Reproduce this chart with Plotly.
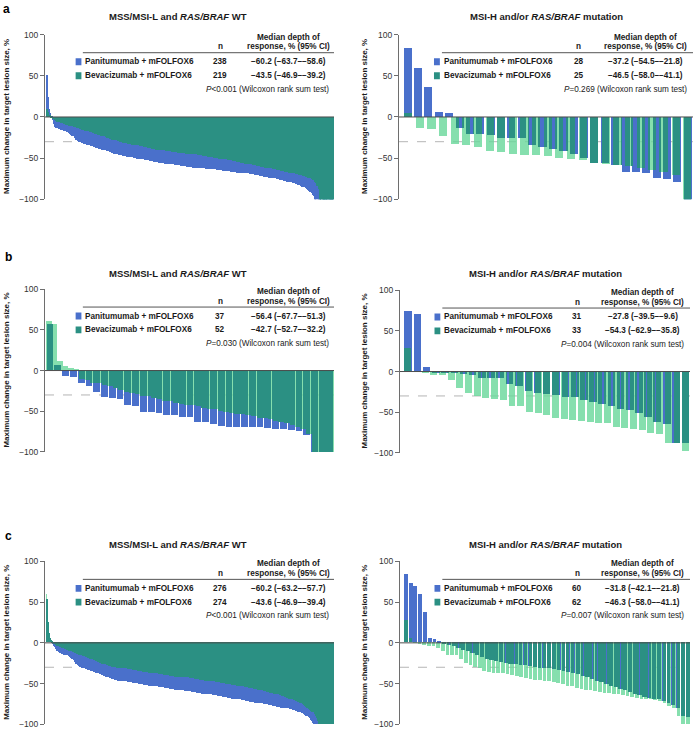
import plotly.graph_objects as go

# ---------------- data ----------------
a_wt_pan = [52, 25, 10, 5, 2, -3, -8, -12, -13, -13,
            -14, -14, -15, -15, -16, -17, -17, -18, -19, -20,
            -21, -22, -23, -25, -27, -28, -29, -30, -30, -31,
            -31, -32, -32, -33, -33, -34, -34, -35, -35, -36,
            -36, -37, -37, -38, -38, -38, -39, -39, -40, -40,
            -41, -41, -42, -42, -43, -43, -44, -44, -45, -45,
            -46, -46, -46, -47, -47, -47, -48, -48, -48, -48,
            -48, -48, -49, -49, -49, -50, -50, -50, -51, -51,
            -51, -52, -52, -52, -52, -53, -53, -53, -53, -54,
            -54, -54, -54, -55, -55, -55, -55, -55, -56, -56,
            -56, -56, -57, -57, -57, -57, -58, -58, -58, -58,
            -58, -59, -59, -59, -59, -59, -60, -60, -60, -60,
            -60, -61, -61, -61, -61, -61, -62, -62, -62, -62,
            -62, -62, -63, -63, -63, -63, -63, -63, -63, -63,
            -63, -64, -64, -64, -64, -64, -65, -65, -65, -65,
            -65, -65, -66, -66, -66, -66, -66, -67, -67, -67,
            -67, -67, -67, -67, -68, -68, -68, -68, -69, -69,
            -69, -69, -70, -70, -70, -70, -71, -71, -71, -71,
            -72, -72, -72, -72, -73, -73, -73, -74, -74, -74,
            -75, -75, -75, -76, -76, -76, -77, -77, -77, -78,
            -78, -78, -79, -79, -80, -80, -81, -81, -82, -82,
            -83, -84, -84, -85, -86, -87, -88, -89, -90, -92,
            -94, -96, -100, -100, -100, -100, -100, -100, -100, -100,
            -100, -100, -100, -100, -100, -100, -100, -100]
a_wt_bev = [10, 6, 3, 1, -1, -2, -3, -4, -5, -6,
            -6, -7, -7, -8, -8, -9, -9, -10, -10, -11,
            -11, -12, -12, -13, -13, -14, -14, -15, -15, -16,
            -16, -17, -17, -18, -18, -19, -19, -20, -20, -21,
            -21, -22, -22, -23, -23, -24, -25, -25, -26, -26,
            -27, -27, -28, -28, -29, -29, -30, -30, -31, -31,
            -31, -31, -32, -32, -32, -33, -33, -33, -34, -34,
            -34, -35, -35, -35, -36, -36, -36, -37, -37, -37,
            -38, -38, -38, -39, -39, -39, -39, -40, -40, -40,
            -40, -41, -41, -41, -41, -42, -42, -42, -42, -42,
            -43, -43, -43, -43, -43, -43, -44, -44, -44, -44,
            -44, -45, -45, -45, -45, -46, -46, -46, -46, -47,
            -47, -47, -47, -48, -48, -48, -48, -49, -49, -49,
            -49, -50, -50, -50, -50, -51, -51, -51, -52, -52,
            -52, -52, -53, -53, -53, -54, -54, -54, -55, -55,
            -55, -56, -56, -56, -57, -57, -57, -58, -58, -58,
            -59, -59, -59, -60, -60, -60, -61, -61, -61, -62,
            -62, -62, -63, -63, -63, -64, -64, -64, -65, -65,
            -65, -66, -66, -66, -67, -67, -67, -68, -68, -68,
            -69, -69, -70, -70, -70, -71, -71, -72, -72, -73,
            -73, -74, -75, -76, -78, -80, -83, -87, -100, -100,
            -100, -100, -100, -100, -100, -100, -100, -100, -100]

a_mut_pan = [84, 60, 37, 6, 5, -13, -20, -20, -21, -25, -25, -25, -33, -36,
             -38, -41, -45, -49, -55, -55, -58, -66, -66, -67, -73, -75, -78, -100]
a_mut_bev = [5, -13, -14, -23, -32, -34, -36, -41, -42, -45, -46, -46, -47,
             -49, -50, -52, -55, -56, -58, -59, -62, -64, -66, -70, -100]

b_wt_pan = [57, 7, -7, -8, -16, -19, -27, -33, -34, -35, -43, -44, -51, -51,
            -52, -55, -55, -57, -57, -63, -64, -66, -68, -69, -69, -69, -69,
            -70, -71, -72, -72, -73, -74, -79, -100, -100, -100]
b_wt_bev = [61, 57, 11, 6, 3, 2, -10, -12, -15, -16, -18, -19, -22, -24, -26,
            -28, -29, -31, -32, -34, -35, -37, -38, -40, -41, -42, -43, -44,
            -46, -47, -48, -50, -51, -52, -53, -54, -55, -56, -58, -59, -60,
            -62, -63, -65, -67, -70, -72, -78, -100, -100, -100, -100]

b_mut_pan = [74, 71, 5, -1, -1, -2, -3, -5, -8, -8, -8, -16, -18, -24, -26,
             -28, -29, -31, -31, -35, -37, -40, -43, -46, -47, -51, -56, -62,
             -65, -88, -88]
b_mut_bev = [29, -1, -2, -4, -4, -10, -20, -27, -30, -33, -34, -35, -42, -43,
             -50, -51, -54, -57, -59, -60, -61, -62, -63, -63, -68, -70, -71,
             -72, -76, -77, -88, -88, -98]

c_wt_pan = [53, 25, 12, 6, 3, 1, -2, -4, -6, -8,
            -10, -11, -12, -13, -13, -14, -14, -15, -15, -16,
            -16, -17, -18, -19, -20, -21, -22, -24, -26, -27,
            -28, -29, -30, -30, -31, -31, -32, -32, -33, -33,
            -34, -34, -35, -35, -35, -36, -36, -37, -37, -38,
            -38, -39, -39, -40, -40, -41, -41, -42, -42, -43,
            -43, -44, -44, -45, -45, -46, -46, -46, -47, -47,
            -47, -47, -47, -48, -48, -48, -48, -48, -49, -49,
            -49, -49, -49, -50, -50, -50, -50, -50, -51, -51,
            -51, -51, -51, -52, -52, -52, -52, -52, -53, -53,
            -53, -53, -53, -54, -54, -54, -54, -54, -55, -55,
            -55, -55, -55, -56, -56, -56, -56, -56, -57, -57,
            -57, -57, -57, -58, -58, -58, -58, -58, -59, -59,
            -59, -59, -59, -60, -60, -60, -60, -60, -60, -61,
            -61, -61, -61, -61, -62, -62, -62, -62, -62, -63,
            -63, -63, -63, -63, -64, -64, -64, -64, -64, -65,
            -65, -65, -65, -65, -66, -66, -66, -66, -66, -67,
            -67, -67, -67, -67, -68, -68, -68, -68, -69, -69,
            -69, -69, -69, -70, -70, -70, -70, -71, -71, -71,
            -71, -72, -72, -72, -72, -73, -73, -73, -73, -73,
            -74, -74, -74, -74, -75, -75, -75, -75, -76, -76,
            -76, -76, -76, -77, -77, -77, -77, -78, -78, -78,
            -78, -79, -79, -79, -79, -80, -80, -80, -80, -81,
            -81, -81, -81, -82, -82, -82, -83, -83, -83, -84,
            -84, -85, -85, -86, -86, -87, -87, -88, -89, -90,
            -91, -92, -93, -95, -97, -99, -100, -100, -100, -100,
            -100, -100, -100, -100, -100, -100, -100, -100, -100, -100,
            -100, -100, -100, -100, -100, -100]
c_wt_bev = [60, 50, 25, 10, 5, 3, 1, -1, -2, -3,
            -4, -5, -5, -6, -6, -7, -7, -8, -8, -9,
            -9, -10, -10, -11, -11, -12, -12, -13, -13, -14,
            -14, -15, -15, -16, -16, -17, -17, -18, -18, -19,
            -19, -20, -20, -21, -21, -22, -22, -23, -23, -24,
            -24, -25, -25, -26, -26, -27, -27, -28, -28, -29,
            -29, -29, -30, -30, -30, -30, -30, -31, -31, -31,
            -31, -31, -32, -32, -32, -32, -32, -33, -33, -33,
            -33, -33, -34, -34, -34, -34, -34, -35, -35, -35,
            -35, -35, -36, -36, -36, -36, -36, -37, -37, -37,
            -37, -37, -38, -38, -38, -38, -38, -39, -39, -39,
            -39, -39, -40, -40, -40, -40, -40, -41, -41, -41,
            -41, -41, -42, -42, -42, -42, -42, -43, -43, -43,
            -43, -43, -43, -43, -43, -43, -44, -44, -44, -44,
            -44, -45, -45, -45, -45, -45, -46, -46, -46, -46,
            -46, -47, -47, -47, -47, -47, -48, -48, -48, -48,
            -48, -49, -49, -49, -49, -49, -50, -50, -50, -50,
            -50, -51, -51, -51, -51, -51, -52, -52, -52, -52,
            -52, -53, -53, -53, -53, -54, -54, -54, -54, -55,
            -55, -55, -55, -56, -56, -56, -56, -57, -57, -57,
            -57, -58, -58, -58, -59, -59, -59, -60, -60, -60,
            -61, -61, -61, -62, -62, -62, -63, -63, -63, -64,
            -64, -64, -65, -65, -66, -66, -66, -67, -67, -68,
            -68, -69, -69, -70, -70, -71, -71, -72, -72, -73,
            -73, -74, -75, -75, -76, -77, -78, -79, -80, -81,
            -82, -83, -84, -85, -86, -88, -90, -93, -96, -100,
            -100, -100, -100, -100, -100, -100, -100, -100, -100, -100,
            -100, -100, -100, -100]

c_mut_pan = [84, 73, 69, 59, 37, 6, 4, 2, -1, -3,
             -5, -7, -9, -11, -13, -16, -18, -20, -22, -23,
             -24, -25, -26, -27, -28, -28, -29, -30, -31, -31,
             -32, -33, -34, -35, -36, -38, -39, -41, -43, -45,
             -47, -49, -51, -53, -55, -57, -59, -61, -63, -65,
             -67, -68, -69, -70, -72, -74, -77, -80, -90, -92]
c_mut_bev = [27, 5, -1, -2, -3, -4, -5, -7, -10, -15,
             -15, -16, -20, -25, -28, -30, -32, -35, -36, -37,
             -38, -38, -39, -40, -41, -42, -44, -45, -46, -46,
             -47, -48, -49, -50, -51, -53, -54, -56, -57, -58,
             -59, -60, -61, -62, -62, -63, -64, -65, -66, -67,
             -68, -69, -70, -70, -71, -72, -74, -78, -80, -91,
             -100, -100]

series_names = ["Panitumumab + mFOLFOX6", "Bevacizumab + mFOLFOX6"]
title_wt = "<b>MSS/MSI-L and <i>RAS/BRAF</i> WT</b>"
title_mut = "<b>MSI-H and/or <i>RAS/BRAF</i> mutation</b>"
n_labels = [["238", "219"], ["28", "25"], ["37", "52"], ["31", "33"], ["276", "274"], ["60", "62"]]
median_labels = [
    ["−60.2 (−63.7–−58.6)", "−43.5 (−46.9–−39.2)"],
    ["−37.2 (−54.5–−21.8)", "−46.5 (−58.0–−41.1)"],
    ["−56.4 (−67.7–−51.3)", "−42.7 (−52.7–−32.2)"],
    ["−27.8 (−39.5–−9.6)", "−54.3 (−62.9–−35.8)"],
    ["−60.2 (−63.2–−57.7)", "−43.6 (−46.9–−39.4)"],
    ["−31.8 (−42.1–−21.8)", "−46.3 (−58.0–−41.1)"],
]
p_labels = ["&lt;0.001", "=0.269", "=0.030", "=0.004", "&lt;0.001", "=0.007"]
y_ticks = [-100, -50, 0, 50, 100]
y_tick_text = ["−100", "−50", "0", "50", "100"]

# ---------------- styling ----------------
W, H = 700, 747
BLUE = "#4A70CB"
TEAL = "#2B9083"
MINT = "rgba(104,215,154,0.8)"
FONT = "Arial, Liberation Sans, sans-serif"
TXT = "#1a1a1a"

panels = [
    dict(pan=a_wt_pan, bev=a_wt_bev, box=(45, 334, 30, 197), side="L", pf=0.85, bf=1.0, title=title_wt, ty=12),
    dict(pan=a_mut_pan, bev=a_mut_bev, box=(399, 693, 30, 197), side="R", pf=0.78, bf=0.7, title=title_mut, ty=12),
    dict(pan=b_wt_pan, bev=b_wt_bev, box=(45, 334, 288, 453), side="L", pf=0.87, bf=1.0, title=title_wt, ty=272),
    dict(pan=b_mut_pan, bev=b_mut_bev, box=(400, 690, 289, 454), side="R", pf=0.8, bf=0.8, title=title_mut, ty=272),
    dict(pan=c_wt_pan, bev=c_wt_bev, box=(45, 334, 564, 729), side="L", pf=0.85, bf=1.0, title=title_wt, ty=547),
    dict(pan=c_mut_pan, bev=c_mut_bev, box=(400, 690, 564, 729), side="R", pf=0.8, bf=0.8, title=title_mut, ty=547),
]


def bar_geom(vals, frac):
    n = len(vals)
    xs = [(i + 0.5) / n for i in range(n)]
    ws = [frac / n] * n
    return xs, ws


def overlap_geom(pv, bv, pf, bf):
    npn, nb = len(pv), len(bv)
    xs, ws, ys = [], [], []
    for i, p in enumerate(pv):
        pl, pr = (i + 0.5 - pf / 2) / npn, (i + 0.5 + pf / 2) / npn
        for j, b in enumerate(bv):
            bl, br = (j + 0.5 - bf / 2) / nb, (j + 0.5 + bf / 2) / nb
            lo, hi = max(pl, bl), min(pr, br)
            if hi > lo and p * b > 0:
                xs.append((lo + hi) / 2)
                ws.append(hi - lo)
                m = min(abs(p), abs(b))
                ys.append(m if p > 0 else -m)
    return xs, ws, ys


fig = go.Figure()
annotations = []
shapes = []
layout_axes = {}

for k, P in enumerate(panels):
    sfx = "" if k == 0 else str(k + 1)
    xa, ya = "x" + sfx, "y" + sfx
    x0, x1, yt, yb = P["box"]

    bx, bw = bar_geom(P["bev"], P["bf"])
    fig.add_trace(go.Bar(x=bx, y=P["bev"], width=bw, marker=dict(color=MINT, line=dict(width=0)),
                         xaxis=xa, yaxis=ya, showlegend=False, hoverinfo="skip"))
    px_, pw = bar_geom(P["pan"], P["pf"])
    fig.add_trace(go.Bar(x=px_, y=P["pan"], width=pw, marker=dict(color=BLUE, line=dict(width=0)),
                         xaxis=xa, yaxis=ya, showlegend=False, hoverinfo="skip"))
    ox, ow, oy = overlap_geom(P["pan"], P["bev"], P["pf"], P["bf"])
    fig.add_trace(go.Bar(x=ox, y=oy, width=ow, marker=dict(color=TEAL, line=dict(width=0)),
                         xaxis=xa, yaxis=ya, showlegend=False, hoverinfo="skip"))

    xstart = -0.004 if P["side"] == "L" else -0.012
    layout_axes["xaxis" + sfx] = dict(domain=[x0 / W, x1 / W], range=[xstart, 1.0], anchor=ya,
                                      showgrid=False, zeroline=False, showticklabels=False,
                                      ticks="", showline=False, fixedrange=True)
    layout_axes["yaxis" + sfx] = dict(domain=[1 - yb / H, 1 - yt / H], range=[-100, 100], anchor=xa,
                                      showgrid=False, zeroline=False, showline=True, linecolor="#6e6e6e",
                                      linewidth=1, ticks="outside", ticklen=4, tickcolor="#6e6e6e",
                                      tickvals=y_ticks, ticktext=y_tick_text,
                                      tickfont=dict(family=FONT, size=8.5, color="#333"), fixedrange=True)

    xdom = xa + " domain"
    shapes.append(dict(type="line", xref=xdom, yref=ya, x0=0, x1=1, y0=-30, y1=-30, layer="below",
                       line=dict(color="#b5b5b5", width=1, dash="dash")))
    shapes.append(dict(type="line", xref=xdom, yref=ya, x0=0, x1=1, y0=0, y1=0, layer="above",
                       line=dict(color="#4d4d4d", width=1)))

    tcx = 0.46 if P["side"] == "L" else 0.5
    annotations.append(dict(text=P["title"], xref=xdom, x=tcx, yref="paper", y=1 - P["ty"] / H,
                            showarrow=False, xanchor="center", yanchor="middle",
                            font=dict(family=FONT, size=9.5, color=TXT)))
    ytx = 7 if P["side"] == "L" else 365
    annotations.append(dict(text="<b>Maximum change in target lesion size, %</b>", xref="paper", x=ytx / W,
                            yref=ya, y=0, textangle=-90, showarrow=False, xanchor="center",
                            yanchor="middle", font=dict(family=FONT, size=8, color=TXT)))

    if P["side"] == "L":
        x_rule, x_sq, x_n, x_med, x_p = 0.131, 0.116, 0.606, 0.844, 0.99
    else:
        x_rule, x_sq, x_n, x_med, x_p = 0.146, 0.129, 0.612, 0.837, 0.986
    shapes.append(dict(type="line", xref=xdom, yref=ya, x0=x_rule, x1=1.0, y0=78, y1=78, layer="above",
                       line=dict(color="#555", width=1)))
    lf = dict(family=FONT, size=8.2, color=TXT)
    annotations.append(dict(text="<b>n</b>", xref=xdom, x=x_n, yref=ya, y=85, showarrow=False,
                            xanchor="center", yanchor="middle", font=lf))
    annotations.append(dict(text="<b>Median depth of</b>", xref=xdom, x=x_med, yref=ya, y=97,
                            showarrow=False, xanchor="center", yanchor="middle", font=lf))
    annotations.append(dict(text="<b>response, % (95% CI)</b>", xref=xdom, x=x_med, yref=ya, y=85,
                            showarrow=False, xanchor="center", yanchor="middle", font=lf))
    for r, (yy, col) in enumerate([(67, BLUE), (50, TEAL)]):
        shapes.append(dict(type="rect", xref=xdom, yref=ya, x0=x_sq - 0.010, x1=x_sq + 0.010,
                           y0=yy - 4.2, y1=yy + 4.2, fillcolor=col, line=dict(width=0), layer="above"))
        annotations.append(dict(text="<b>" + series_names[r] + "</b>", xref=xdom, x=x_rule, yref=ya, y=yy,
                                showarrow=False, xanchor="left", yanchor="middle", font=lf))
        annotations.append(dict(text="<b>" + n_labels[k][r] + "</b>", xref=xdom, x=x_n, yref=ya, y=yy,
                                showarrow=False, xanchor="center", yanchor="middle", font=lf))
        annotations.append(dict(text="<b>" + median_labels[k][r] + "</b>", xref=xdom, x=x_med, yref=ya, y=yy,
                                showarrow=False, xanchor="center", yanchor="middle", font=lf))
    annotations.append(dict(text="<i>P</i>" + p_labels[k] + " (Wilcoxon rank sum test)", xref=xdom, x=x_p,
                            yref=ya, y=33, showarrow=False, xanchor="right", yanchor="middle",
                            font=dict(family=FONT, size=8.2, color=TXT)))

for letter, (lx, ly) in zip(["a", "b", "c"], [(6, 4), (8, 255), (8, 538)]):
    annotations.append(dict(text="<b>" + letter + "</b>", xref="paper", x=lx / W, yref="paper", y=1 - ly / H,
                            showarrow=False, xanchor="center", yanchor="middle",
                            font=dict(family=FONT, size=12, color="#000")))

fig.update_layout(width=W, height=H, margin=dict(l=0, r=0, t=0, b=0), barmode="overlay", bargap=0,
                  paper_bgcolor="white", plot_bgcolor="white", showlegend=False,
                  annotations=annotations, shapes=shapes, **layout_axes)

fig.write_html("out.html", config={"displayModeBar": False},
               post_script="document.body.style.margin='0px';document.body.style.padding='0px';")
